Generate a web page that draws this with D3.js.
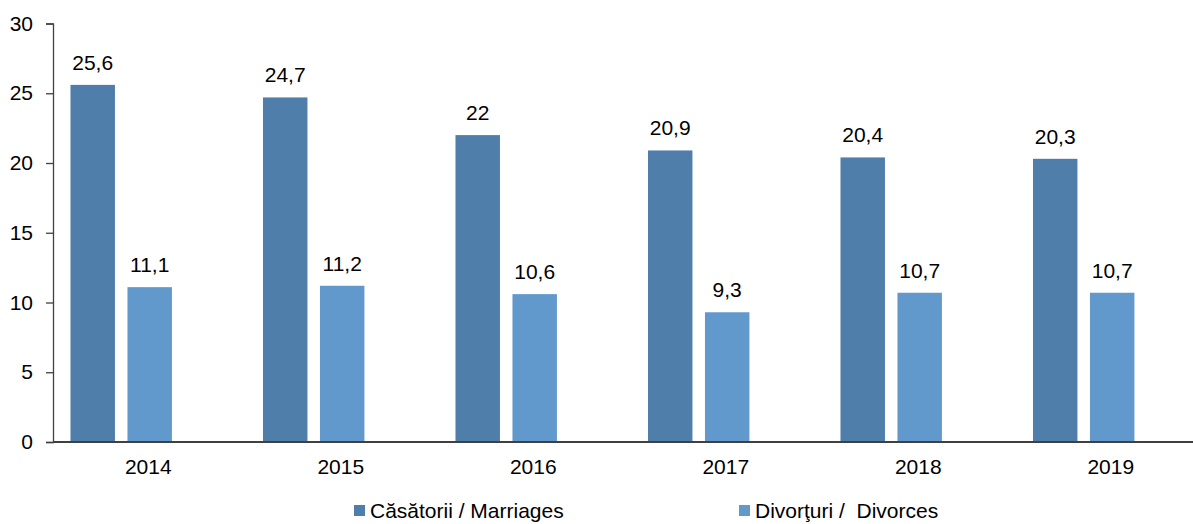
<!DOCTYPE html>
<html><head><meta charset="utf-8">
<script src="https://cdn.jsdelivr.net/npm/d3@7"></script>
<style>body{margin:0;background:#fff;} svg{display:block;font-family:"Liberation Sans",Arial,sans-serif;} text{white-space:pre;}</style>
</head><body>
<svg id="c" width="1193" height="524"></svg>
<script>
const years = ["2014","2015","2016","2017","2018","2019"];
const marriages = [25.6, 24.7, 22, 20.9, 20.4, 20.3];
const divorces = [11.1, 11.2, 10.6, 9.3, 10.7, 10.7];
const yTicks = [0,5,10,15,20,25,30];
const seriesNames = ["Căsătorii / Marriages", "Divorţuri /  Divorces"];
const colors = ["#4f7eab", "#6299cc"];

const svg = d3.select("#c");
const x = d3.scaleBand().domain(years).range([52, 52 + 6*192.5]).padding(0);
const y = d3.scaleLinear().domain([0,30]).range([442, 23.5]);
const bw = x.bandwidth();
const fmt = v => String(v).replace(".", ",");
const FS = 21;

// y axis
const yAxis = d3.axisLeft(y).tickValues(yTicks).tickSize(7).tickPadding(13);
const gy = svg.append("g").attr("transform","translate(53,0)").call(yAxis);
gy.select(".domain").attr("stroke","#404040").attr("stroke-width",1.3);
gy.selectAll(".tick line").attr("stroke","#404040").attr("stroke-width",1.3);
gy.selectAll(".tick text").attr("font-size",FS).attr("fill","#000").attr("font-family","Liberation Sans, Arial, sans-serif");

// bars
const data = years.map((yr,i)=>({yr, m: marriages[i], d: divorces[i]}));
const series = [
  {key:"m", off:0.096, color:colors[0]},
  {key:"d", off:0.392, color:colors[1]}
];
series.forEach(s=>{
  svg.append("g").selectAll("rect").data(data).join("rect")
    .attr("x", d=>x(d.yr)+s.off*bw)
    .attr("width", 0.231*bw)
    .attr("y", d=>y(d[s.key]))
    .attr("height", d=>y(0)-y(d[s.key]))
    .attr("fill", s.color);
  svg.append("g").selectAll("text").data(data).join("text")
    .attr("x", d=>x(d.yr)+s.off*bw+0.1155*bw)
    .attr("y", d=>y(d[s.key])-15)
    .attr("text-anchor","middle")
    .attr("font-size",FS)
    .attr("fill","#000")
    .text(d=>fmt(d[s.key]));
});

// x axis
const xAxis = d3.axisBottom(x).tickSize(0).tickPadding(17);
const gx = svg.append("g").attr("transform","translate(0,442)").call(xAxis);
gx.select(".domain").attr("stroke","#404040").attr("stroke-width",2).attr("d","M53,0H1193");
gx.selectAll(".tick text").attr("font-size",FS).attr("fill","#000").attr("font-family","Liberation Sans, Arial, sans-serif");

// legend
const legX = [354, 739];
seriesNames.forEach((n,i)=>{
  const g = svg.append("g").attr("transform",`translate(${legX[i]},505)`);
  g.append("rect").attr("x",0).attr("y",0).attr("width",11).attr("height",11).attr("fill",colors[i]);
  g.append("text").attr("x",16).attr("y",13).attr("font-size",FS).attr("fill","#000").text(n);
});
</script>
</body></html>
